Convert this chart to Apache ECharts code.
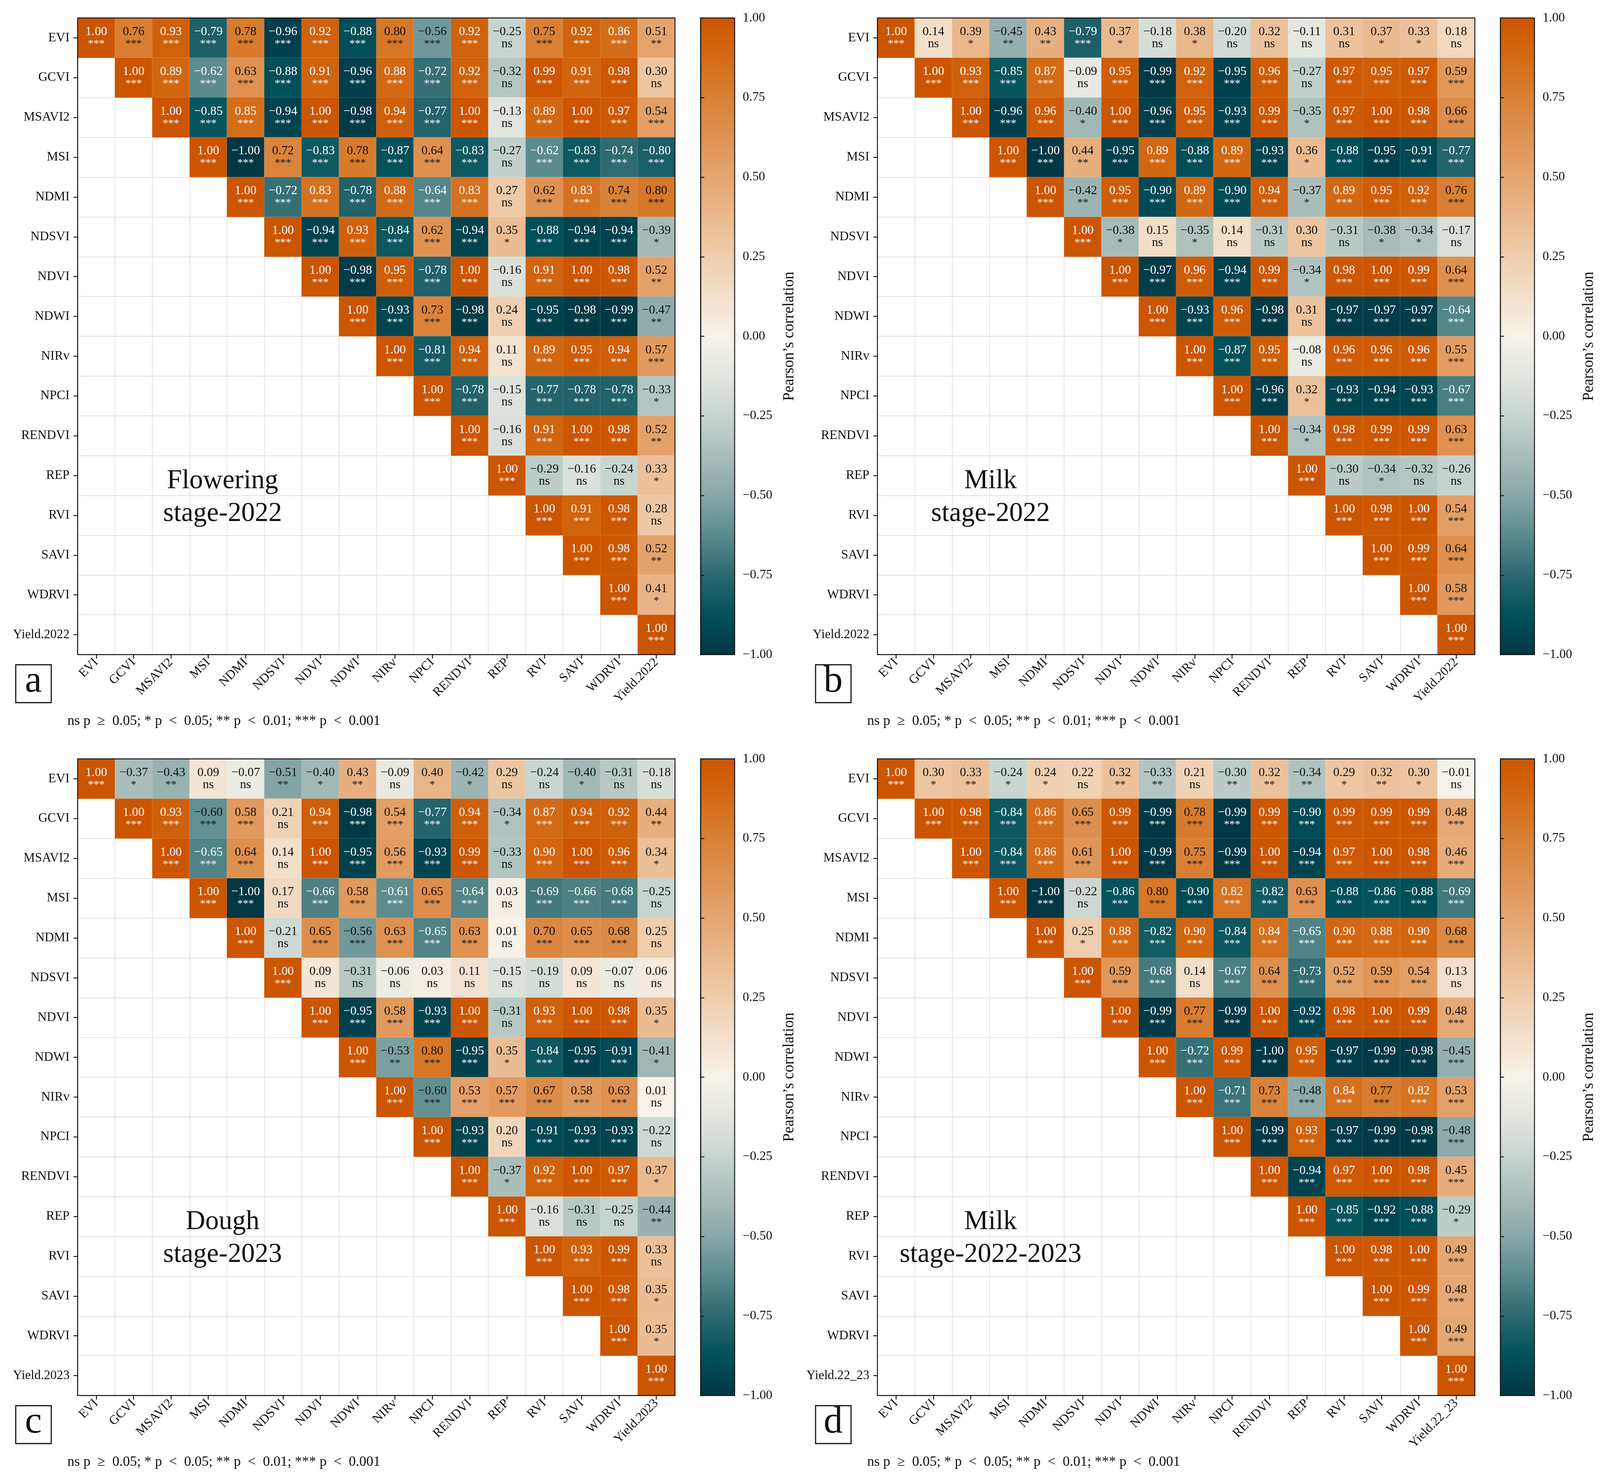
<!DOCTYPE html>
<html>
<head>
<meta charset="utf-8">
<title>Pearson correlation heatmaps</title>
<script src="https://cdn.jsdelivr.net/npm/echarts@6.0.0/dist/echarts.min.js"></script>
<style>
html,body{margin:0;padding:0;background:#fff;overflow:hidden;}
#main{width:100vw;height:100vh;}
</style>
</head>
<body>
<div id="main"></div>
<script>
// vegetation indices, the last column/row is the yield of each panel
var vars = ['EVI','GCVI','MSAVI2','MSI','NDMI','NDSVI','NDVI','NDWI','NIRv','NPCI','RENDVI','REP','RVI','SAVI','WDRVI'];
var yieldNames = ['Yield.2022','Yield.2022','Yield.2023','Yield.22_23'];
var stageNotes = ['Flowering\nstage-2022','Milk\nstage-2022','Dough\nstage-2023','Milk\nstage-2022-2023'];
var panelTags = ['a','b','c','d'];

// upper triangle, each row starts at the diagonal
var flowR = [
	[1.00,0.76,0.93,-0.79,0.78,-0.96,0.92,-0.88,0.80,-0.56,0.92,-0.25,0.75,0.92,0.86,0.51],
	[1.00,0.89,-0.62,0.63,-0.88,0.91,-0.96,0.88,-0.72,0.92,-0.32,0.99,0.91,0.98,0.30],
	[1.00,-0.85,0.85,-0.94,1.00,-0.98,0.94,-0.77,1.00,-0.13,0.89,1.00,0.97,0.54],
	[1.00,-1.00,0.72,-0.83,0.78,-0.87,0.64,-0.83,-0.27,-0.62,-0.83,-0.74,-0.80],
	[1.00,-0.72,0.83,-0.78,0.88,-0.64,0.83,0.27,0.62,0.83,0.74,0.80],
	[1.00,-0.94,0.93,-0.84,0.62,-0.94,0.35,-0.88,-0.94,-0.94,-0.39],
	[1.00,-0.98,0.95,-0.78,1.00,-0.16,0.91,1.00,0.98,0.52],
	[1.00,-0.93,0.73,-0.98,0.24,-0.95,-0.98,-0.99,-0.47],
	[1.00,-0.81,0.94,0.11,0.89,0.95,0.94,0.57],
	[1.00,-0.78,-0.15,-0.77,-0.78,-0.78,-0.33],
	[1.00,-0.16,0.91,1.00,0.98,0.52],
	[1.00,-0.29,-0.16,-0.24,0.33],
	[1.00,0.91,0.98,0.28],
	[1.00,0.98,0.52],
	[1.00,0.41],
	[1.00]
];
// significance level: 0 = ns, 1 = *, 2 = **, 3 = ***
var flowS = [
	[3,3,3,3,3,3,3,3,3,3,3,0,3,3,3,2],
	[3,3,3,3,3,3,3,3,3,3,0,3,3,3,0],
	[3,3,3,3,3,3,3,3,3,0,3,3,3,3],
	[3,3,3,3,3,3,3,3,0,3,3,3,3],
	[3,3,3,3,3,3,3,0,3,3,3,3],
	[3,3,3,3,3,3,1,3,3,3,1],
	[3,3,3,3,3,0,3,3,3,2],
	[3,3,3,3,0,3,3,3,2],
	[3,3,3,0,3,3,3,3],
	[3,3,0,3,3,3,1],
	[3,0,3,3,3,2],
	[3,0,0,0,1],
	[3,3,3,0],
	[3,3,2],
	[3,1],
	[3]
];

var milkR = [
	[1.00,0.14,0.39,-0.45,0.43,-0.79,0.37,-0.18,0.38,-0.20,0.32,-0.11,0.31,0.37,0.33,0.18],
	[1.00,0.93,-0.85,0.87,-0.09,0.95,-0.99,0.92,-0.95,0.96,-0.27,0.97,0.95,0.97,0.59],
	[1.00,-0.96,0.96,-0.40,1.00,-0.96,0.95,-0.93,0.99,-0.35,0.97,1.00,0.98,0.66],
	[1.00,-1.00,0.44,-0.95,0.89,-0.88,0.89,-0.93,0.36,-0.88,-0.95,-0.91,-0.77],
	[1.00,-0.42,0.95,-0.90,0.89,-0.90,0.94,-0.37,0.89,0.95,0.92,0.76],
	[1.00,-0.38,0.15,-0.35,0.14,-0.31,0.30,-0.31,-0.38,-0.34,-0.17],
	[1.00,-0.97,0.96,-0.94,0.99,-0.34,0.98,1.00,0.99,0.64],
	[1.00,-0.93,0.96,-0.98,0.31,-0.97,-0.97,-0.97,-0.64],
	[1.00,-0.87,0.95,-0.08,0.96,0.96,0.96,0.55],
	[1.00,-0.96,0.32,-0.93,-0.94,-0.93,-0.67],
	[1.00,-0.34,0.98,0.99,0.99,0.63],
	[1.00,-0.30,-0.34,-0.32,-0.26],
	[1.00,0.98,1.00,0.54],
	[1.00,0.99,0.64],
	[1.00,0.58],
	[1.00]
];
var milkS = [
	[3,0,1,2,2,3,1,0,1,0,0,0,0,1,1,0],
	[3,3,3,3,0,3,3,3,3,3,0,3,3,3,3],
	[3,3,3,1,3,3,3,3,3,1,3,3,3,3],
	[3,3,2,3,3,3,3,3,1,3,3,3,3],
	[3,2,3,3,3,3,3,1,3,3,3,3],
	[3,1,0,1,0,0,0,0,1,1,0],
	[3,3,3,3,3,1,3,3,3,3],
	[3,3,3,3,0,3,3,3,3],
	[3,3,3,0,3,3,3,3],
	[3,3,1,3,3,3,3],
	[3,1,3,3,3,3],
	[3,0,1,0,0],
	[3,3,3,3],
	[3,3,3],
	[3,3],
	[3]
];

var doughR = [
	[1.00,-0.37,-0.43,0.09,-0.07,-0.51,-0.40,0.43,-0.09,0.40,-0.42,0.29,-0.24,-0.40,-0.31,-0.18],
	[1.00,0.93,-0.60,0.58,0.21,0.94,-0.98,0.54,-0.77,0.94,-0.34,0.87,0.94,0.92,0.44],
	[1.00,-0.65,0.64,0.14,1.00,-0.95,0.56,-0.93,0.99,-0.33,0.90,1.00,0.96,0.34],
	[1.00,-1.00,0.17,-0.66,0.58,-0.61,0.65,-0.64,0.03,-0.69,-0.66,-0.68,-0.25],
	[1.00,-0.21,0.65,-0.56,0.63,-0.65,0.63,0.01,0.70,0.65,0.68,0.25],
	[1.00,0.09,-0.31,-0.06,0.03,0.11,-0.15,-0.19,0.09,-0.07,0.06],
	[1.00,-0.95,0.58,-0.93,1.00,-0.31,0.93,1.00,0.98,0.35],
	[1.00,-0.53,0.80,-0.95,0.35,-0.84,-0.95,-0.91,-0.41],
	[1.00,-0.60,0.53,0.57,0.67,0.58,0.63,0.01],
	[1.00,-0.93,0.20,-0.91,-0.93,-0.93,-0.22],
	[1.00,-0.37,0.92,1.00,0.97,0.37],
	[1.00,-0.16,-0.31,-0.25,-0.44],
	[1.00,0.93,0.99,0.33],
	[1.00,0.98,0.35],
	[1.00,0.35],
	[1.00]
];
var doughS = [
	[3,1,2,0,0,2,1,2,0,1,1,0,0,1,0,0],
	[3,3,3,3,0,3,3,3,3,3,1,3,3,3,2],
	[3,3,3,0,3,3,3,3,3,0,3,3,3,1],
	[3,3,0,3,3,3,3,3,0,3,3,3,0],
	[3,0,3,3,3,3,3,0,3,3,3,0],
	[3,0,0,0,0,0,0,0,0,0,0],
	[3,3,3,3,3,0,3,3,3,1],
	[3,2,3,3,1,3,3,3,1],
	[3,3,3,3,3,3,3,0],
	[3,3,0,3,3,3,0],
	[3,1,3,3,3,1],
	[3,0,0,0,2],
	[3,3,3,0],
	[3,3,1],
	[3,1],
	[3]
];

var bothR = [
	[1.00,0.30,0.33,-0.24,0.24,0.22,0.32,-0.33,0.21,-0.30,0.32,-0.34,0.29,0.32,0.30,-0.01],
	[1.00,0.98,-0.84,0.86,0.65,0.99,-0.99,0.78,-0.99,0.99,-0.90,0.99,0.99,0.99,0.48],
	[1.00,-0.84,0.86,0.61,1.00,-0.99,0.75,-0.99,1.00,-0.94,0.97,1.00,0.98,0.46],
	[1.00,-1.00,-0.22,-0.86,0.80,-0.90,0.82,-0.82,0.63,-0.88,-0.86,-0.88,-0.69],
	[1.00,0.25,0.88,-0.82,0.90,-0.84,0.84,-0.65,0.90,0.88,0.90,0.68],
	[1.00,0.59,-0.68,0.14,-0.67,0.64,-0.73,0.52,0.59,0.54,0.13],
	[1.00,-0.99,0.77,-0.99,1.00,-0.92,0.98,1.00,0.99,0.48],
	[1.00,-0.72,0.99,-1.00,0.95,-0.97,-0.99,-0.98,-0.45],
	[1.00,-0.71,0.73,-0.48,0.84,0.77,0.82,0.53],
	[1.00,-0.99,0.93,-0.97,-0.99,-0.98,-0.48],
	[1.00,-0.94,0.97,1.00,0.98,0.45],
	[1.00,-0.85,-0.92,-0.88,-0.29],
	[1.00,0.98,1.00,0.49],
	[1.00,0.99,0.48],
	[1.00,0.49],
	[1.00]
];
var bothS = [
	[3,1,2,1,1,0,2,2,0,2,2,2,1,2,1,0],
	[3,3,3,3,3,3,3,3,3,3,3,3,3,3,3],
	[3,3,3,3,3,3,3,3,3,3,3,3,3,3],
	[3,3,0,3,3,3,3,3,3,3,3,3,3],
	[3,1,3,3,3,3,3,3,3,3,3,3],
	[3,3,3,0,3,3,3,3,3,3,0],
	[3,3,3,3,3,3,3,3,3,3],
	[3,3,3,3,3,3,3,3,3],
	[3,3,3,3,3,3,3,3],
	[3,3,3,3,3,3,3],
	[3,3,3,3,3,3],
	[3,3,3,3,1],
	[3,3,3,3],
	[3,3,3],
	[3,3],
	[3]
];

var colorbarTicks = [-1, 1, 0.25];
// teal -> cream -> orange, evenly spaced from -1 to 1
var palette = ['#023745','#00505a','#2b6870','#5a8a8c','#87a7a7','#a8bdba','#c7d4cf','#e2e6de','#f7f3ea',
	'#f3e0cc','#efcdad','#eab98e','#e5a570','#df9252','#d98035','#d36a15','#cc5500'];

var FONT = '"Liberation Serif", "DejaVu Serif", serif';
var starText = ['ns','*','**','***'];

var dom = document.getElementById('main');
// the layout was measured on a 4371 x 3797 page; stretch it to the real window
var kx = dom.clientWidth/4371, ky = dom.clientHeight/3797;
var k = Math.min(kx, ky);
function ux(n){ return n*kx; }
function uy(n){ return n*ky; }
function u(n){ return n*k; }
function font(n){ return u(n).toFixed(1) + 'px ' + FONT; }

var PX = ux(212), PY = uy(46), PW = ux(1632), PH = uy(1630);
var DX = ux(2185), DY = uy(1897);
var CBX = ux(1914), CBW = ux(93);

function fmt(v){
	return v.toFixed(2).replace('-', '\u2212');
}

function buildData(R, S){
	var out = [];
	for(var i=0;i<R.length;i++){
		for(var j=0;j<R[i].length;j++){
			var v = R[i][j];
			var light = (v >= 0.81 || v <= -0.61);
			out.push({
				value: [i+j, i, v],
				sig: S[i][j],
				label: {color: light ? '#ffffff' : '#111111'}
			});
		}
	}
	return out;
}

var myChart = echarts.init(dom, null, {renderer:'canvas'});
var matrices = [[flowR, flowS],[milkR, milkS],[doughR, doughS],[bothR, bothS]];

var grids = [], xAxes = [], yAxes = [], series = [], graphics = [];
var stops = [];
for(var c=0;c<palette.length;c++){
	stops.push({offset: c/(palette.length-1), color: palette[c]});
}

for(var p=0;p<4;p++){
	var ox = (p%2)*DX, oy = Math.floor(p/2)*DY;
	var labels = vars.concat([yieldNames[p]]);
	var g = grids.length;

	grids.push({left: PX+ox, top: PY+oy, width: PW, height: PH, show: true,
		backgroundColor: '#fff', borderWidth: 0, outerBoundsMode: 'none'});
	grids.push({left: CBX+ox, top: PY+oy, width: CBW, height: PH, show: true,
		backgroundColor: new echarts.graphic.LinearGradient(0,1,0,0, stops),
		borderColor: '#111', borderWidth: u(2.5), outerBoundsMode: 'none'});

	xAxes.push({
		type: 'category', gridIndex: g, data: labels, position: 'bottom',
		axisLine: {show: true, lineStyle: {color: '#111', width: u(2)}},
		axisTick: {show: true, alignWithLabel: true, length: u(11), lineStyle: {color: '#111', width: u(2.5)}},
		axisLabel: {rotate: 45, margin: u(16), fontSize: u(35), fontFamily: FONT, color: '#111', interval: 0},
		splitLine: {show: true, interval: 0, lineStyle: {color: '#e2e2e2', width: u(2)}}
	});
	yAxes.push({
		type: 'category', gridIndex: g, data: labels, inverse: true, position: 'left',
		axisLine: {show: true, lineStyle: {color: '#111', width: u(2)}},
		axisTick: {show: true, alignWithLabel: true, length: u(11), lineStyle: {color: '#111', width: u(2.5)}},
		axisLabel: {margin: u(22), fontSize: u(35), fontFamily: FONT, color: '#111', interval: 0},
		splitLine: {show: true, interval: 0, lineStyle: {color: '#e2e2e2', width: u(2)}}
	});
	// colour bar axes
	xAxes.push({type: 'value', gridIndex: g+1, show: false, min: 0, max: 1});
	yAxes.push({
		type: 'value', gridIndex: g+1, position: 'right',
		min: colorbarTicks[0], max: colorbarTicks[1], interval: colorbarTicks[2],
		axisLine: {show: true, lineStyle: {color: '#111', width: u(2.5)}},
		axisTick: {show: true, length: u(10), lineStyle: {color: '#111', width: u(2.5)}},
		axisLabel: {margin: u(22), fontSize: u(35), fontFamily: FONT, color: '#111', formatter: function(v){ return fmt(v); }},
		splitLine: {show: false},
		name: "Pearson\u2019s correlation", nameLocation: 'middle', nameRotate: 90, nameGap: ux(128),
		nameTextStyle: {fontSize: u(42), fontFamily: FONT, color: '#111'}
	});

	series.push({
		type: 'heatmap', xAxisIndex: g, yAxisIndex: g,
		data: buildData(matrices[p][0], matrices[p][1]),
		itemStyle: {borderColor: 'rgba(255,255,255,0.18)', borderWidth: u(1)},
		label: {
			show: true, fontFamily: FONT,
			formatter: function(prm){
				var s = prm.data.sig;
				return '{v|' + fmt(prm.value[2]) + '}\n' + (s === 0 ? '{n|ns}' : '{s|' + starText[s] + '}');
			},
			rich: {
				v: {fontSize: u(34), lineHeight: u(33), fontFamily: FONT},
				n: {fontSize: u(34), lineHeight: u(33), fontFamily: FONT},
				s: {fontSize: u(30), lineHeight: u(33), fontFamily: FONT}
			}
		},
		emphasis: {disabled: true}
	});

	// frame of the matrix
	graphics.push({type: 'rect', z: 100, silent: true,
		shape: {x: PX+ox, y: PY+oy, width: PW, height: PH},
		style: {fill: 'none', stroke: '#111', lineWidth: u(2.5)}});
	// stage note
	var nx = (p%2 === 0) ? 396 : 309;
	graphics.push({type: 'text', z: 100, x: PX+ox+ux(nx), y: PY+oy+uy(1228),
		style: {text: stageNotes[p], font: font(74), fill: '#111', align: 'center', verticalAlign: 'middle', lineHeight: uy(84)}});
	// panel letter
	graphics.push({type: 'rect', z: 100, shape: {x: ux(43)+ox, y: uy(1702)+oy, width: ux(97), height: uy(97)},
		style: {fill: '#fff', stroke: '#111', lineWidth: u(3)}});
	graphics.push({type: 'text', z: 101, x: ux(91)+ox, y: uy(1745)+oy,
		style: {text: panelTags[p], font: font(104), fill: '#111', align: 'center', verticalAlign: 'middle'}});
	// significance legend
	graphics.push({type: 'text', z: 100, x: ux(184)+ox, y: uy(1847)+oy,
		style: {text: 'ns p  \u2265  0.05; * p  <  0.05; ** p  <  0.01; *** p  <  0.001',
			font: font(38.5), fill: '#111', align: 'left', verticalAlign: 'middle'}});
}

var option = {
	animation: false,
	backgroundColor: '#fff',
	grid: grids,
	xAxis: xAxes,
	yAxis: yAxes,
	visualMap: {
		type: 'continuous', show: false, min: -1, max: 1,
		seriesIndex: [0,1,2,3], dimension: 2,
		inRange: {color: palette}
	},
	series: series,
	graphic: graphics
};
myChart.setOption(option);
</script>
</body>
</html>
